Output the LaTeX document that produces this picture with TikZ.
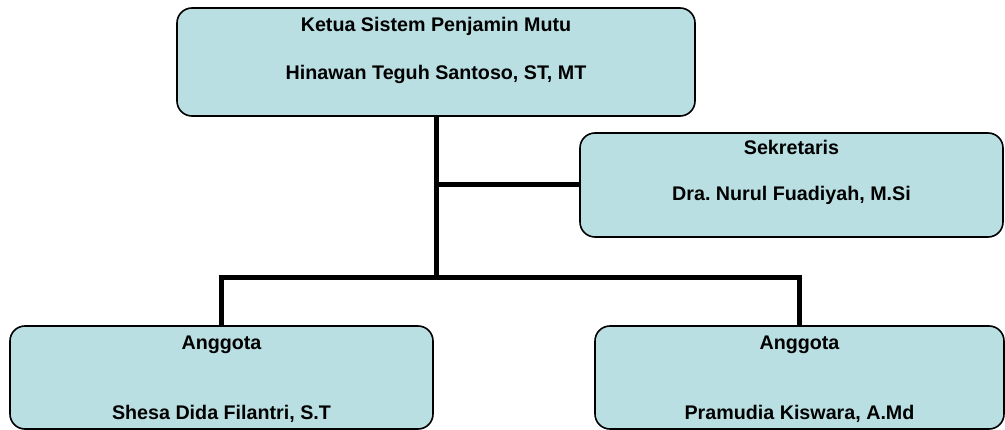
\documentclass[tikz,border=0pt]{standalone}
\usepackage{fontspec}
\setmainfont{Liberation Sans}
\usepackage{tikz}
\usetikzlibrary{calc, positioning}
\definecolor{boxfill}{RGB}{185,223,226}
\frenchspacing

\begin{document}
\begin{tikzpicture}[x=1pt,y=-1pt,
    unitbox/.style={draw=black, line width=1.6pt, fill=boxfill, rounded corners=15pt, inner sep=0pt},
    txt/.style={font=\fontsize{19.7}{23}\selectfont\bfseries, inner sep=0pt, anchor=base},
    conn/.style={line width=5pt}]
        \useasboundingbox (0,0) rectangle (1005,430);
        % Boxes
        \node[unitbox, minimum width=518pt, minimum height=108pt] (ketua) at (436,62) {};
        \node[unitbox, minimum width=423pt, minimum height=104pt] (sek) at (791.5,185) {};
        \node[unitbox, minimum width=423pt, minimum height=103pt] (ang1) at (221.5,377.5) {};
        \node[unitbox, minimum width=409pt, minimum height=103pt] (ang2) at (799.5,377.5) {};
        % Labels
        \node[txt] (ketuaA) at ([yshift=-24.7pt]ketua.north) {Ketua Sistem Penjamin Mutu};
        \node[txt] (ketuaB) at ([yshift=-72.7pt]ketua.north) {Hinawan Teguh Santoso, ST, MT};
        \node[txt] (sekA) at ([yshift=-22.7pt]sek.north) {Sekretaris};
        \node[txt] (sekB) at ([yshift=-68.7pt]sek.north) {Dra. Nurul Fuadiyah, M.Si};
        \node[txt] (ang1A) at ([yshift=-24pt]ang1.north) {Anggota};
        \node[txt] (ang1B) at ([yshift=-94pt]ang1.north) {Shesa Dida Filantri, S.T};
        \node[txt] (ang2A) at ([yshift=-24pt]ang2.north) {Anggota};
        \node[txt] (ang2B) at ([yshift=-94pt]ang2.north) {Pramudia Kiswara, A.Md};
        % Connectors
        \coordinate (bus) at (ketua.south |- 0,278);
        \draw[conn] (ketua.south) -- (bus);
        \draw[conn] (ketua.south |- sek.west) -- (sek.west);
        \draw[conn] (ang1.north) |- (bus) -| (ang2.north);
\end{tikzpicture}
\end{document}
